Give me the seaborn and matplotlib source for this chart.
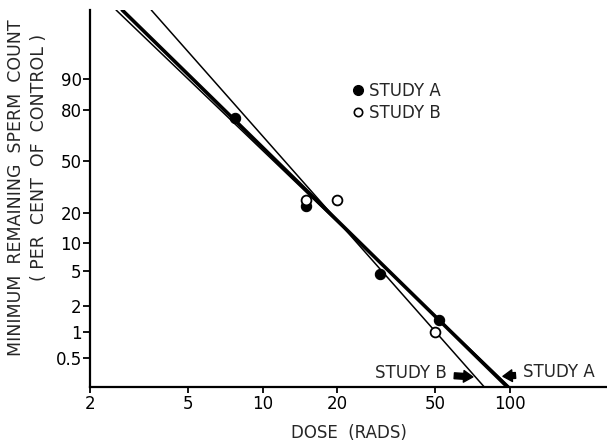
import numpy as np
import pandas as pd
import matplotlib
matplotlib.use("Agg")
import matplotlib.pyplot as plt
import seaborn as sns
from matplotlib.lines import Line2D
from matplotlib.ticker import NullLocator, FixedLocator, FixedFormatter

# ---- data ----
study_a_dose = [7.7, 15, 30, 52]
study_a_pct = [76, 23, 4.6, 1.4]
study_b_dose = [15, 20, 50]
study_b_pct = [26, 26, 1.0]

# fitted lines (end points)
fit_a_dose = [2.70, 98]
fit_a_pct = [98.3, 0.233]
fit_pooled_dose = [2.55, 100]
fit_pooled_pct = [98.3, 0.233]
fit_b_dose = [3.54, 79]
fit_b_pct = [98.3, 0.233]

y_ticks = [0.5, 1, 2, 5, 10, 20, 50, 80, 90]
y_tick_labels = ["0.5", "1", "2", "5", "10", "20", "50", "80", "90"]
x_ticks = [2, 5, 10, 20, 50, 100]
x_tick_labels = ["2", "5", "10", "20", "50", "100"]

sns.set_style("ticks")
plt.rcParams["font.family"] = ["DejaVu Sans"]
plt.rcParams["font.size"] = 12

fig = plt.figure(figsize=(6.07, 4.46), dpi=100)
ax = fig.add_axes([90 / 607, 1 - 387 / 446, 1 - 90 / 607, (387 - 10) / 446])


def fwd(p):
    p = np.asarray(p, dtype=float)
    with np.errstate(divide="ignore", invalid="ignore"):
        return np.log(p / (100.0 - p))


def inv(z):
    z = np.asarray(z, dtype=float)
    return 100.0 / (1.0 + np.exp(-z))


ax.set_xscale("log")
ax.set_yscale("function", functions=(fwd, inv))

df_a = pd.DataFrame({"dose": study_a_dose, "pct": study_a_pct})
df_b = pd.DataFrame({"dose": study_b_dose, "pct": study_b_pct})
fa = pd.DataFrame({"dose": fit_a_dose, "pct": fit_a_pct})
fp = pd.DataFrame({"dose": fit_pooled_dose, "pct": fit_pooled_pct})
fb = pd.DataFrame({"dose": fit_b_dose, "pct": fit_b_pct})

sns.lineplot(data=fp, x="dose", y="pct", ax=ax, color="black", lw=1.1, sort=False)
sns.lineplot(data=fa, x="dose", y="pct", ax=ax, color="black", lw=2.6, sort=False)
sns.lineplot(data=fb, x="dose", y="pct", ax=ax, color="black", lw=1.1, sort=False)

sns.scatterplot(data=df_a, x="dose", y="pct", ax=ax, color="black", s=55,
                edgecolor="black", linewidth=0.8, zorder=5)
sns.scatterplot(data=df_b, x="dose", y="pct", ax=ax, facecolor="white", s=50,
                edgecolor="black", linewidth=1.3, zorder=6)

ax.set_xlim(2, 248)
ax.set_ylim(0.233, 98.3)

ax.xaxis.set_major_locator(FixedLocator(x_ticks))
ax.xaxis.set_major_formatter(FixedFormatter(x_tick_labels))
ax.xaxis.set_minor_locator(NullLocator())
ax.yaxis.set_major_locator(FixedLocator(y_ticks))
ax.yaxis.set_major_formatter(FixedFormatter(y_tick_labels))
ax.yaxis.set_minor_locator(NullLocator())

sns.despine(ax=ax)
for s in ["left", "bottom"]:
    ax.spines[s].set_linewidth(1.6)
    ax.spines[s].set_color("black")
ax.tick_params(axis="both", colors="black", labelsize=12, width=1.3)
ax.tick_params(axis="y", length=5, pad=1)
ax.tick_params(axis="x", length=4, pad=2)

ax.set_xlabel("DOSE  (RADS)", fontsize=12, labelpad=8)
ax.set_ylabel("")

fig.text(16 / 607, 1 - 188 / 446, "MINIMUM  REMAINING  SPERM  COUNT",
         rotation=90, ha="center", va="center", fontsize=12.5)
fig.text(39 / 607, 1 - 157 / 446, "( PER  CENT  OF  CONTROL )",
         rotation=90, ha="center", va="center", fontsize=12.5)

handles = [
    Line2D([], [], marker="o", ls="", color="black", markersize=7),
    Line2D([], [], marker="o", ls="", markerfacecolor="white",
           markeredgecolor="black", markeredgewidth=1.2, markersize=6),
]
ax.legend(handles, ["STUDY A", "STUDY B"], loc="upper left",
          bbox_to_anchor=(351 / 607, 1 - 82 / 446), bbox_transform=fig.transFigure,
          frameon=False, borderpad=0, handlelength=0.8, handletextpad=0.3,
          labelspacing=0.25, fontsize=12, borderaxespad=0)

arrow = dict(arrowstyle="simple,head_length=0.55,head_width=0.7,tail_width=0.35",
             fc="black", ec="black", shrinkA=3, shrinkB=0)
ax.annotate("STUDY B", xy=(71, 0.305), xytext=(-26, 4), textcoords="offset pixels",
            ha="right", va="center", fontsize=12, arrowprops=arrow)
ax.annotate("STUDY A", xy=(94, 0.31), xytext=(20, 4), textcoords="offset pixels",
            ha="left", va="center", fontsize=12, arrowprops=arrow)

fig.savefig("out.png", dpi=100)
